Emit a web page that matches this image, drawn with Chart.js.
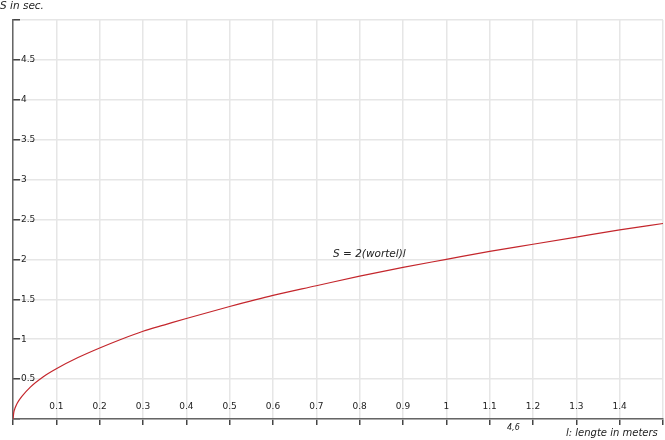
<!DOCTYPE html>
<html>
<head>
<meta charset="utf-8">
<script src="https://cdn.jsdelivr.net/npm/chart.js@4"></script>
<style>
  html, body { margin: 0; padding: 0; background: #fff; }
  #wrap { width: 665px; height: 440px; }
</style>
</head>
<body>
<div id="wrap"><canvas id="myChart"></canvas></div>
<script>
// lengths l (m) and times S (s)
const lengths = [0, 0.002, 0.005, 0.01, 0.02, 0.04, 0.07, 0.1, 0.15, 0.2, 0.25, 0.3, 0.35, 0.4, 0.5, 0.6, 0.7, 0.8, 0.9, 1.0, 1.1, 1.2, 1.3, 1.4, 1.5];
const times = [0, 0.09, 0.14, 0.2, 0.28, 0.4, 0.53, 0.63, 0.77, 0.89, 1.0, 1.1, 1.18, 1.26, 1.41, 1.55, 1.67, 1.79, 1.9, 2.0, 2.1, 2.19, 2.28, 2.37, 2.45];
const xTicksShown = [0.1, 0.2, 0.3, 0.4, 0.5, 0.6, 0.7, 0.8, 0.9, 1, 1.1, 1.2, 1.3, 1.4];
const yTicksShown = [0.5, 1, 1.5, 2, 2.5, 3, 3.5, 4, 4.5];

const points = lengths.map((l, i) => ({ x: l, y: times[i] }));
const tickFont = { family: 'DejaVu Sans', size: 9 };

function near(v, list) {
  return list.some(t => Math.abs(t - v) < 1e-6);
}

// free texts: axis captions and the formula
const notes = {
  id: 'notes',
  afterDraw(chart) {
    const c = chart.ctx;
    c.save();
    c.fillStyle = '#222';
    c.textBaseline = 'alphabetic';
    c.font = 'italic 10.5px "DejaVu Sans"';
    c.fillText('S in sec.', 0, 9);
    c.fillText('S = 2(wortel)l', 333, 257);
    c.font = 'italic 10px "DejaVu Sans"';
    c.fillText('l: lengte in meters', 566, 436);
    c.font = 'italic 8px "DejaVu Sans"';
    c.fillText('4,6', 507, 430);
    c.restore();
  }
};

const ctx = document.getElementById('myChart').getContext('2d');
const myChart = new Chart(ctx, {
  type: 'line',
  data: {
    datasets: [{
      data: points,
      borderColor: '#c4262c',
      borderWidth: 1.2,
      pointRadius: 0,
      fill: false,
      cubicInterpolationMode: 'monotone'
    }]
  },
  options: {
    responsive: true,
    maintainAspectRatio: false,
    animation: false,
    layout: { padding: { top: 20, right: 2, left: 0, bottom: 0 } },
    plugins: { legend: { display: false }, tooltip: { enabled: false } },
    scales: {
      x: {
        type: 'linear',
        min: 0,
        max: 1.5,
        afterFit: s => { s.height = 21; s.paddingLeft = 0; s.paddingRight = 0; },
        border: { color: '#666', width: 1.5 },
        grid: { color: '#e6e6e6', lineWidth: 1.5, tickLength: 6, tickColor: '#444' },
        ticks: {
          stepSize: 0.1,
          mirror: true,
          padding: 7,
          color: '#222',
          font: tickFont,
          maxRotation: 0,
          autoSkip: false,
          callback: v => near(v, xTicksShown) ? String(Math.round(v * 10) / 10) : ''
        }
      },
      y: {
        min: 0,
        max: 5,
        afterFit: s => { s.width = 13; s.paddingTop = 0; s.paddingBottom = 0; },
        border: { color: '#666', width: 1.5 },
        grid: { color: '#e6e6e6', lineWidth: 1.5, tickLength: -7, tickColor: '#444' },
        ticks: {
          stepSize: 0.5,
          mirror: true,
          padding: 8,
          color: '#222',
          font: tickFont,
          callback: v => near(v, yTicksShown) ? String(v) : ''
        }
      }
    }
  },
  plugins: [notes]
});
</script>
</body>
</html>
